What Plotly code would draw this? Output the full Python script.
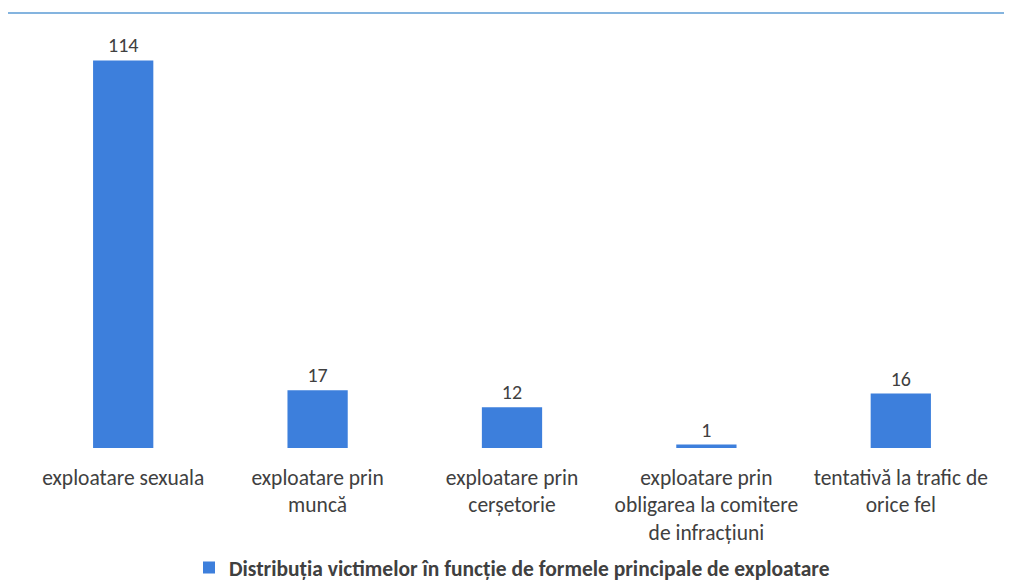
import plotly.graph_objects as go

categories = [
    "exploatare sexuala",
    "exploatare prin<br>muncă",
    "exploatare prin<br>cerșetorie",
    "exploatare prin<br>obligarea la comitere<br>de infracțiuni",
    "tentativă la trafic de<br>orice fel",
]
values = [114, 17, 12, 1, 16]
series_name = "Distribuția victimelor în funcție de formele principale de exploatare"

FONT = "Carlito, Lato, 'Open Sans', sans-serif"
TXT = "#404040"
BLUE = "#3d7fdc"

fig = go.Figure()
fig.add_trace(go.Bar(
    x=categories, y=values, name="<b>" + series_name + "</b>",
    marker=dict(color=BLUE, line=dict(width=0)),
    width=0.31,
    text=[str(v) for v in values], textposition="outside",
    textfont=dict(size=20, color=TXT, family=FONT),
    cliponaxis=False,
))
fig.update_layout(
    width=996, height=578,
    margin=dict(l=18, r=6, t=32, b=138, autoexpand=False),
    paper_bgcolor="white", plot_bgcolor="white",
    font=dict(family=FONT, color=TXT, size=21.5),
    showlegend=True,
    legend=dict(orientation="h", x=0.5, xanchor="center", yref="paper",
                y=-0.243, yanchor="top", bgcolor="rgba(0,0,0,0)",
                font=dict(size=21.5, color=TXT, family=FONT)),
    xaxis=dict(showgrid=False, zeroline=False, showline=False, ticks="",
               automargin=False, ticklabelstandoff=14,
               tickfont=dict(size=21.5, color=TXT, family=FONT)),
    yaxis=dict(range=[0, 120], visible=False, automargin=False),
    shapes=[dict(type="line", xref="paper", yref="paper", x0=-0.03, x1=1.02,
                 y0=1.066, y1=1.066, line=dict(color="#5b9bd5", width=1.5))],
)
fig.write_html("out.html")
